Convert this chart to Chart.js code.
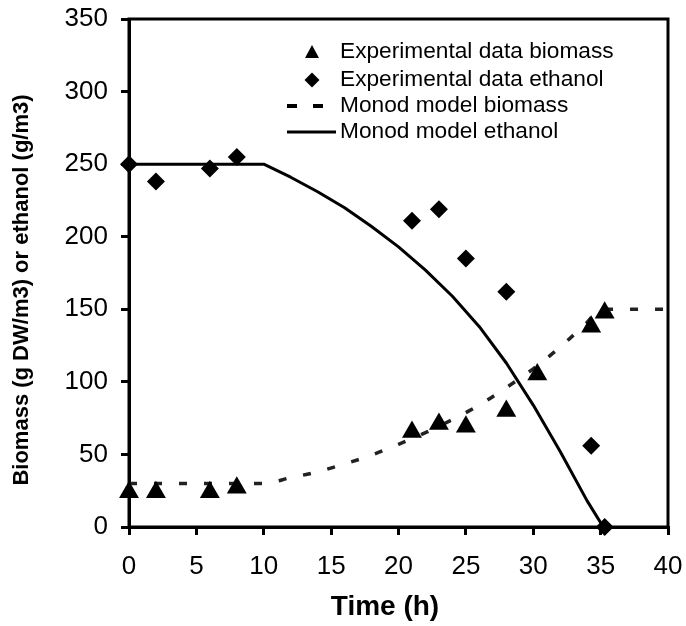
<!DOCTYPE html>
<html>
<head>
<meta charset="utf-8">
<script src="https://cdn.jsdelivr.net/npm/chart.js@4/dist/chart.umd.min.js"></script>
<style>
  html, body { margin: 0; padding: 0; background: #fff; }
  #wrap { width: 686px; height: 626px; }
</style>
</head>
<body>
<div id="wrap"><canvas id="c" width="686" height="626"></canvas></div>
<script>
// ---- data ----
const expBiomassTime = [0, 2, 6, 8, 21, 23, 25, 28, 30.3, 34.3, 35.3];
const expBiomass     = [24, 24, 24, 27, 65.5, 71, 69, 80, 105, 138, 147.6];

const expEthanolTime = [0, 2, 6, 8, 21, 23, 25, 28, 34.3, 35.3];
const expEthanol     = [250, 238, 247, 255, 211, 219, 185, 162, 56, 0];

const modelBiomassTime = [0, 10, 12, 14, 16, 18, 20, 22, 24, 26, 28, 30, 32, 34, 35, 40];
const modelBiomass     = [30, 30, 34, 38, 43.5, 49.5, 57, 65, 74, 84, 96, 109, 124, 141, 150, 150];

const modelEthanolTime = [0, 10, 12, 14, 16, 18, 20, 22, 24, 26, 28, 30, 32, 34, 35.2];
const modelEthanol     = [250, 250, 241, 231, 220, 207, 193, 177, 159, 138, 113, 84, 52, 18, 0];

const xTicks = [0, 5, 10, 15, 20, 25, 30, 35, 40];
const yTicks = [0, 50, 100, 150, 200, 250, 300, 350];

const xTitle = 'Time (h)';
const yTitle = 'Biomass (g DW/m3) or ethanol (g/m3)';
const legendLabels = ['Experimental data biomass', 'Experimental data ethanol', 'Monod model biomass', 'Monod model ethanol'];

const pts = (xs, ys) => xs.map((x, i) => ({ x: x, y: ys[i] }));

const FONT = "'Liberation Sans', Arial, sans-serif";

const framePlugin = {
  id: 'frameLegend',
  afterDraw(chart) {
    const { ctx, chartArea: a } = chart;
    ctx.save();
    ctx.strokeStyle = '#000';
    ctx.lineWidth = 3;
    ctx.strokeRect(a.left, a.top, a.right - a.left, a.bottom - a.top);

    // axis titles
    ctx.fillStyle = '#000';
    ctx.textAlign = 'center';
    ctx.textBaseline = 'middle';
    ctx.font = 'bold 28px ' + FONT;
    ctx.fillText(xTitle, 385, 607);
    ctx.save();
    ctx.translate(22, 290);
    ctx.rotate(-Math.PI / 2);
    ctx.font = 'bold 22px ' + FONT;
    ctx.fillText(yTitle, 0, 0);
    ctx.restore();

    // legend
    const rows = [52, 80, 106, 132];
    const textX = 340;
    ctx.font = '22.7px ' + FONT;
    ctx.textAlign = 'left';
    legendLabels.forEach((t, i) => ctx.fillText(t, textX, rows[i]));

    // triangle
    ctx.beginPath();
    ctx.moveTo(312, rows[0] - 7);
    ctx.lineTo(319, rows[0] + 6);
    ctx.lineTo(305, rows[0] + 6);
    ctx.closePath();
    ctx.fill();
    // diamond
    ctx.beginPath();
    ctx.moveTo(312, rows[1] - 7.5);
    ctx.lineTo(319.5, rows[1]);
    ctx.lineTo(312, rows[1] + 7.5);
    ctx.lineTo(304.5, rows[1]);
    ctx.closePath();
    ctx.fill();
    // dashed
    ctx.fillRect(287, rows[2] - 2, 10, 4);
    ctx.fillRect(313, rows[2] - 2, 10, 4);
    // solid
    ctx.fillRect(287, rows[3] - 1.5, 49, 3);
    ctx.restore();
  }
};

new Chart(document.getElementById('c'), {
  type: 'scatter',
  data: {
    datasets: [
      {
        label: legendLabels[0],
        data: pts(expBiomassTime, expBiomass),
        showLine: false,
        pointStyle: 'triangle',
        pointRadius: 11.5,
        backgroundColor: '#000',
        borderColor: '#000',
        borderWidth: 0,
        clip: false
      },
      {
        label: legendLabels[1],
        data: pts(expEthanolTime, expEthanol),
        showLine: false,
        pointStyle: 'rectRot',
        pointRadius: 9,
        backgroundColor: '#000',
        borderColor: '#000',
        borderWidth: 0,
        clip: false
      },
      {
        label: legendLabels[2],
        data: pts(modelBiomassTime, modelBiomass),
        showLine: true,
        pointRadius: 0,
        borderColor: '#222',
        borderWidth: 3.5,
        borderDash: [8, 17],
        cubicInterpolationMode: 'monotone',
        fill: false
      },
      {
        label: legendLabels[3],
        data: pts(modelEthanolTime, modelEthanol),
        showLine: true,
        pointRadius: 0,
        borderColor: '#000',
        borderWidth: 3,
        tension: 0,
        borderJoinStyle: 'round',
        fill: false
      }
    ]
  },
  options: {
    responsive: false,
    animation: false,
    layout: { padding: { top: 19, right: 18, left: 0, bottom: 0 } },
    plugins: { legend: { display: false }, tooltip: { enabled: false } },
    scales: {
      x: {
        type: 'linear',
        min: 0, max: 40,
        afterBuildTicks: s => { s.ticks = xTicks.map(v => ({ value: v })); },
        afterFit: s => { s.height = 99; s.paddingLeft = 0; s.paddingRight = 0; },
        ticks: { color: '#000', font: { family: FONT, size: 26 }, padding: 16, maxRotation: 0 },
        grid: { drawOnChartArea: false, drawTicks: true, tickLength: 8, color: '#000', lineWidth: 3 },
        border: { display: true, color: '#000', width: 3 },
        title: { display: false }
      },
      y: {
        type: 'linear',
        min: 0, max: 350,
        afterBuildTicks: s => { s.ticks = yTicks.map(v => ({ value: v })); },
        afterFit: s => { s.width = 129; s.paddingTop = 0; s.paddingBottom = 0; },
        ticks: { color: '#000', font: { family: FONT, size: 26 }, padding: 13 },
        grid: { drawOnChartArea: false, drawTicks: true, tickLength: 8, color: '#000', lineWidth: 3 },
        border: { display: true, color: '#000', width: 3 },
        title: { display: false }
      }
    }
  },
  plugins: [framePlugin]
});
</script>
</body>
</html>
